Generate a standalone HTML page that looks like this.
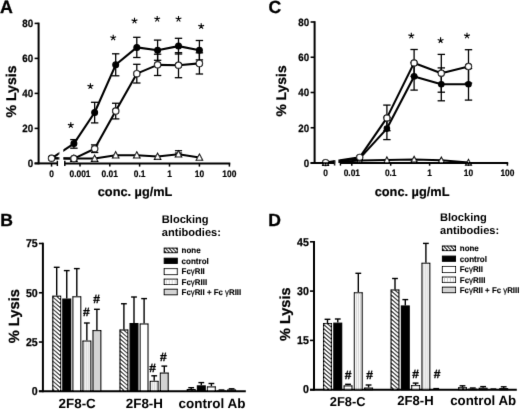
<!DOCTYPE html>
<html><head><meta charset="utf-8"><title>Figure</title>
<style>
html,body{margin:0;padding:0;background:#fff;}
svg{display:block;font-family:"Liberation Sans", sans-serif;text-rendering:geometricPrecision;}
</style></head>
<body>
<svg width="520" height="409" viewBox="0 0 520 409">
<defs>
<filter id="soft" x="0" y="0" width="520" height="409" filterUnits="userSpaceOnUse"><feConvolveMatrix order="3" kernelMatrix="0 1 0 1 9 1 0 1 0" divisor="13" edgeMode="duplicate"/></filter>
<pattern id="hatch" patternUnits="userSpaceOnUse" width="3" height="3">
<rect width="3" height="3" fill="#fff"/>
<path d="M-1,-1 L4,4 M-1,2 L1,4 M2,-1 L4,1" stroke="#000" stroke-width="0.95"/>
</pattern>
<pattern id="vert" patternUnits="userSpaceOnUse" width="2" height="4">
<rect width="2" height="4" fill="#fff"/>
<line x1="1" y1="0" x2="1" y2="4" stroke="#777" stroke-width="0.7"/>
</pattern>
</defs>
<rect width="520" height="409" fill="#fff"/>
<g filter="url(#soft)">
<text x="0.0" y="12.8" font-size="17.8" text-anchor="start" font-weight="bold" stroke="#000" stroke-width="0.3">A</text>
<polyline points="51.55,158.3 73.9,158.6 94.65,158.6 115.7,155.2 136.8,155.3 157.6,156.6 178.5,154.3 199.4,157.5" fill="none" stroke="#000" stroke-width="2.0" stroke-linejoin="round"/>
<line x1="178.5" y1="150.7" x2="178.5" y2="153" stroke="#000" stroke-width="1.2" />
<line x1="174.9" y1="150.7" x2="182.1" y2="150.7" stroke="#000" stroke-width="1.2" />
<line x1="174.9" y1="153" x2="182.1" y2="153" stroke="#000" stroke-width="1.2" />
<line x1="73.9" y1="139.6" x2="73.9" y2="148.2" stroke="#000" stroke-width="1.3" />
<line x1="70.2" y1="139.6" x2="77.60000000000001" y2="139.6" stroke="#000" stroke-width="1.3" />
<line x1="70.2" y1="148.2" x2="77.60000000000001" y2="148.2" stroke="#000" stroke-width="1.3" />
<line x1="94.65" y1="144.9" x2="94.65" y2="152.5" stroke="#000" stroke-width="1.3" />
<line x1="90.95" y1="144.9" x2="98.35000000000001" y2="144.9" stroke="#000" stroke-width="1.3" />
<line x1="90.95" y1="152.5" x2="98.35000000000001" y2="152.5" stroke="#000" stroke-width="1.3" />
<line x1="94.65" y1="102.3" x2="94.65" y2="122.9" stroke="#000" stroke-width="1.3" />
<line x1="90.95" y1="102.3" x2="98.35000000000001" y2="102.3" stroke="#000" stroke-width="1.3" />
<line x1="90.95" y1="122.9" x2="98.35000000000001" y2="122.9" stroke="#000" stroke-width="1.3" />
<line x1="115.7" y1="103.25" x2="115.7" y2="118.9" stroke="#000" stroke-width="1.3" />
<line x1="112.0" y1="103.25" x2="119.4" y2="103.25" stroke="#000" stroke-width="1.3" />
<line x1="112.0" y1="118.9" x2="119.4" y2="118.9" stroke="#000" stroke-width="1.3" />
<line x1="115.7" y1="53.8" x2="115.7" y2="75.8" stroke="#000" stroke-width="1.3" />
<line x1="112.0" y1="53.8" x2="119.4" y2="53.8" stroke="#000" stroke-width="1.3" />
<line x1="112.0" y1="75.8" x2="119.4" y2="75.8" stroke="#000" stroke-width="1.3" />
<line x1="136.8" y1="64.3" x2="136.8" y2="83.0" stroke="#000" stroke-width="1.3" />
<line x1="133.10000000000002" y1="64.3" x2="140.5" y2="64.3" stroke="#000" stroke-width="1.3" />
<line x1="133.10000000000002" y1="83.0" x2="140.5" y2="83.0" stroke="#000" stroke-width="1.3" />
<line x1="136.8" y1="37.3" x2="136.8" y2="57.5" stroke="#000" stroke-width="1.3" />
<line x1="133.10000000000002" y1="37.3" x2="140.5" y2="37.3" stroke="#000" stroke-width="1.3" />
<line x1="133.10000000000002" y1="57.5" x2="140.5" y2="57.5" stroke="#000" stroke-width="1.3" />
<line x1="157.6" y1="54.2" x2="157.6" y2="75.5" stroke="#000" stroke-width="1.3" />
<line x1="153.9" y1="54.2" x2="161.29999999999998" y2="54.2" stroke="#000" stroke-width="1.3" />
<line x1="153.9" y1="75.5" x2="161.29999999999998" y2="75.5" stroke="#000" stroke-width="1.3" />
<line x1="157.6" y1="40.1" x2="157.6" y2="60.3" stroke="#000" stroke-width="1.3" />
<line x1="153.9" y1="40.1" x2="161.29999999999998" y2="40.1" stroke="#000" stroke-width="1.3" />
<line x1="153.9" y1="60.3" x2="161.29999999999998" y2="60.3" stroke="#000" stroke-width="1.3" />
<line x1="178.5" y1="52.7" x2="178.5" y2="77.7" stroke="#000" stroke-width="1.3" />
<line x1="174.8" y1="52.7" x2="182.2" y2="52.7" stroke="#000" stroke-width="1.3" />
<line x1="174.8" y1="77.7" x2="182.2" y2="77.7" stroke="#000" stroke-width="1.3" />
<line x1="178.5" y1="38.3" x2="178.5" y2="54.0" stroke="#000" stroke-width="1.3" />
<line x1="174.8" y1="38.3" x2="182.2" y2="38.3" stroke="#000" stroke-width="1.3" />
<line x1="174.8" y1="54.0" x2="182.2" y2="54.0" stroke="#000" stroke-width="1.3" />
<line x1="199.4" y1="52.8" x2="199.4" y2="74.0" stroke="#000" stroke-width="1.3" />
<line x1="195.70000000000002" y1="52.8" x2="203.1" y2="52.8" stroke="#000" stroke-width="1.3" />
<line x1="195.70000000000002" y1="74.0" x2="203.1" y2="74.0" stroke="#000" stroke-width="1.3" />
<line x1="199.4" y1="40.5" x2="199.4" y2="59.9" stroke="#000" stroke-width="1.3" />
<line x1="195.70000000000002" y1="40.5" x2="203.1" y2="40.5" stroke="#000" stroke-width="1.3" />
<line x1="195.70000000000002" y1="59.9" x2="203.1" y2="59.9" stroke="#000" stroke-width="1.3" />
<polyline points="51.55,158.3 73.9,158.6 94.65,148.7 115.7,111.1 136.8,73.65 157.6,64.85 178.5,65.2 199.4,63.4" fill="none" stroke="#000" stroke-width="2.1" stroke-linejoin="round"/>
<polyline points="51.55,158.3 73.9,143.6 94.65,112.5 115.7,64.8 136.8,47.4 157.6,50.2 178.5,46.1 199.4,50.2" fill="none" stroke="#000" stroke-width="2.1" stroke-linejoin="round"/>
<rect x="59.4" y="136" width="3.6" height="30" fill="#fff"/>
<path d="M73.9,155.16 L77.15,161.33 L70.65,161.33 Z" fill="#fff" stroke="#000" stroke-width="1.1" stroke-linejoin="miter"/>
<path d="M94.65,155.16 L97.9,161.33 L91.4,161.33 Z" fill="#fff" stroke="#000" stroke-width="1.1" stroke-linejoin="miter"/>
<path d="M115.7,151.75 L118.95,157.93 L112.45,157.93 Z" fill="#fff" stroke="#000" stroke-width="1.1" stroke-linejoin="miter"/>
<path d="M136.8,151.86 L140.05,158.03 L133.55,158.03 Z" fill="#fff" stroke="#000" stroke-width="1.1" stroke-linejoin="miter"/>
<path d="M157.6,153.16 L160.85,159.33 L154.35,159.33 Z" fill="#fff" stroke="#000" stroke-width="1.1" stroke-linejoin="miter"/>
<path d="M178.5,150.86 L181.75,157.03 L175.25,157.03 Z" fill="#fff" stroke="#000" stroke-width="1.1" stroke-linejoin="miter"/>
<path d="M199.4,154.06 L202.65,160.23 L196.15,160.23 Z" fill="#fff" stroke="#000" stroke-width="1.1" stroke-linejoin="miter"/>
<circle cx="73.9" cy="143.6" r="2.9" fill="#000" stroke="#000" stroke-width="1.2"/>
<circle cx="94.65" cy="112.5" r="2.9" fill="#000" stroke="#000" stroke-width="1.2"/>
<circle cx="115.7" cy="64.8" r="2.9" fill="#000" stroke="#000" stroke-width="1.2"/>
<circle cx="136.8" cy="47.4" r="2.9" fill="#000" stroke="#000" stroke-width="1.2"/>
<circle cx="157.6" cy="50.2" r="2.9" fill="#000" stroke="#000" stroke-width="1.2"/>
<circle cx="178.5" cy="46.1" r="2.9" fill="#000" stroke="#000" stroke-width="1.2"/>
<circle cx="199.4" cy="50.2" r="2.9" fill="#000" stroke="#000" stroke-width="1.2"/>
<circle cx="51.55" cy="158.3" r="3.15" fill="#fff" stroke="#000" stroke-width="1.2"/>
<circle cx="73.9" cy="158.6" r="3.15" fill="#fff" stroke="#000" stroke-width="1.2"/>
<circle cx="94.65" cy="148.7" r="3.15" fill="#fff" stroke="#000" stroke-width="1.2"/>
<circle cx="115.7" cy="111.1" r="3.15" fill="#fff" stroke="#000" stroke-width="1.2"/>
<circle cx="136.8" cy="73.65" r="3.15" fill="#fff" stroke="#000" stroke-width="1.2"/>
<circle cx="157.6" cy="64.85" r="3.15" fill="#fff" stroke="#000" stroke-width="1.2"/>
<circle cx="178.5" cy="65.2" r="3.15" fill="#fff" stroke="#000" stroke-width="1.2"/>
<circle cx="199.4" cy="63.4" r="3.15" fill="#fff" stroke="#000" stroke-width="1.2"/>
<line x1="38.6" y1="22.599999999999998" x2="38.6" y2="164.3" stroke="#000" stroke-width="2.0" />
<line x1="34.6" y1="23.4" x2="38.6" y2="23.4" stroke="#000" stroke-width="1.6" />
<text transform="translate(33.2,27.19) scale(0.92,1)" font-size="10.6" text-anchor="end" font-weight="bold" stroke="#000" stroke-width="0.25">80</text>
<line x1="34.6" y1="58.4" x2="38.6" y2="58.4" stroke="#000" stroke-width="1.6" />
<text transform="translate(33.2,62.19) scale(0.92,1)" font-size="10.6" text-anchor="end" font-weight="bold" stroke="#000" stroke-width="0.25">60</text>
<line x1="34.6" y1="93.4" x2="38.6" y2="93.4" stroke="#000" stroke-width="1.6" />
<text transform="translate(33.2,97.19) scale(0.92,1)" font-size="10.6" text-anchor="end" font-weight="bold" stroke="#000" stroke-width="0.25">40</text>
<line x1="34.6" y1="128.4" x2="38.6" y2="128.4" stroke="#000" stroke-width="1.6" />
<text transform="translate(33.2,132.19) scale(0.92,1)" font-size="10.6" text-anchor="end" font-weight="bold" stroke="#000" stroke-width="0.25">20</text>
<line x1="34.6" y1="163.4" x2="38.6" y2="163.4" stroke="#000" stroke-width="1.6" />
<text transform="translate(33.2,167.19) scale(0.92,1)" font-size="10.6" text-anchor="end" font-weight="bold" stroke="#000" stroke-width="0.25">0</text>
<line x1="34.6" y1="163.4" x2="57.4" y2="163.4" stroke="#000" stroke-width="2.0" />
<line x1="64.8" y1="163.4" x2="230.3" y2="163.4" stroke="#000" stroke-width="2.0" />
<line x1="57.4" y1="160.8" x2="57.4" y2="166.0" stroke="#000" stroke-width="1.5" />
<line x1="64.8" y1="160.8" x2="64.8" y2="166.0" stroke="#000" stroke-width="1.5" />
<line x1="51.55" y1="163.4" x2="51.55" y2="166.6" stroke="#000" stroke-width="1.5" />
<text transform="translate(51.55,176.8) scale(0.9,1)" font-size="9.4" text-anchor="middle" font-weight="bold" stroke="#000" stroke-width="0.2">0</text>
<line x1="80.0" y1="163.4" x2="80.0" y2="166.6" stroke="#000" stroke-width="1.5" />
<text transform="translate(80.0,176.8) scale(0.9,1)" font-size="9.4" text-anchor="middle" font-weight="bold" stroke="#000" stroke-width="0.2">0.001</text>
<line x1="109.8" y1="163.4" x2="109.8" y2="166.6" stroke="#000" stroke-width="1.5" />
<text transform="translate(109.8,176.8) scale(0.9,1)" font-size="9.4" text-anchor="middle" font-weight="bold" stroke="#000" stroke-width="0.2">0.01</text>
<line x1="139.6" y1="163.4" x2="139.6" y2="166.6" stroke="#000" stroke-width="1.5" />
<text transform="translate(139.6,176.8) scale(0.9,1)" font-size="9.4" text-anchor="middle" font-weight="bold" stroke="#000" stroke-width="0.2">0.1</text>
<line x1="169.5" y1="163.4" x2="169.5" y2="166.6" stroke="#000" stroke-width="1.5" />
<text transform="translate(169.5,176.8) scale(0.9,1)" font-size="9.4" text-anchor="middle" font-weight="bold" stroke="#000" stroke-width="0.2">1</text>
<line x1="199.4" y1="163.4" x2="199.4" y2="166.6" stroke="#000" stroke-width="1.5" />
<text transform="translate(199.4,176.8) scale(0.9,1)" font-size="9.4" text-anchor="middle" font-weight="bold" stroke="#000" stroke-width="0.2">10</text>
<line x1="229.4" y1="163.4" x2="229.4" y2="166.6" stroke="#000" stroke-width="1.5" />
<text transform="translate(229.4,176.8) scale(0.9,1)" font-size="9.4" text-anchor="middle" font-weight="bold" stroke="#000" stroke-width="0.2">100</text>
<text x="135.1" y="195.9" font-size="12.75" text-anchor="middle" font-weight="bold" stroke="#000" stroke-width="0.2">conc. µg/mL</text>
<text x="0" y="0" font-size="14.1" text-anchor="middle" font-weight="bold" transform="translate(16.2,91.5) rotate(-90)" stroke="#000" stroke-width="0.25">% Lysis</text>
<path d="M70.8,125.3 L70.8,122.25 M70.8,125.3 L73.7,124.36 M70.8,125.3 L72.59,127.77 M70.8,125.3 L69.01,127.77 M70.8,125.3 L67.9,124.36 " stroke="#000" stroke-width="1.1" fill="none" stroke-linecap="butt"/>
<path d="M90.4,86.3 L90.4,83.25 M90.4,86.3 L93.3,85.36 M90.4,86.3 L92.19,88.77 M90.4,86.3 L88.61,88.77 M90.4,86.3 L87.5,85.36 " stroke="#000" stroke-width="1.1" fill="none" stroke-linecap="butt"/>
<path d="M113.2,37.7 L113.2,34.65 M113.2,37.7 L116.1,36.76 M113.2,37.7 L114.99,40.17 M113.2,37.7 L111.41,40.17 M113.2,37.7 L110.3,36.76 " stroke="#000" stroke-width="1.1" fill="none" stroke-linecap="butt"/>
<path d="M134.5,20.8 L134.5,17.75 M134.5,20.8 L137.4,19.86 M134.5,20.8 L136.29,23.27 M134.5,20.8 L132.71,23.27 M134.5,20.8 L131.6,19.86 " stroke="#000" stroke-width="1.1" fill="none" stroke-linecap="butt"/>
<path d="M157.2,19.0 L157.2,15.95 M157.2,19.0 L160.1,18.06 M157.2,19.0 L158.99,21.47 M157.2,19.0 L155.41,21.47 M157.2,19.0 L154.3,18.06 " stroke="#000" stroke-width="1.1" fill="none" stroke-linecap="butt"/>
<path d="M178.5,19.0 L178.5,15.95 M178.5,19.0 L181.4,18.06 M178.5,19.0 L180.29,21.47 M178.5,19.0 L176.71,21.47 M178.5,19.0 L175.6,18.06 " stroke="#000" stroke-width="1.1" fill="none" stroke-linecap="butt"/>
<path d="M201.2,26.3 L201.2,23.25 M201.2,26.3 L204.1,25.36 M201.2,26.3 L202.99,28.77 M201.2,26.3 L199.41,28.77 M201.2,26.3 L198.3,25.36 " stroke="#000" stroke-width="1.1" fill="none" stroke-linecap="butt"/>
<text x="268.5" y="12.9" font-size="17.6" text-anchor="start" font-weight="bold" stroke="#000" stroke-width="0.3">C</text>
<polyline points="325.6,163.0 359.7,160.6 386.9,160.1 414.1,159.55 441.3,160.3 468.5,162.6" fill="none" stroke="#000" stroke-width="2.0" stroke-linejoin="round"/>
<line x1="386.9" y1="105.1" x2="386.9" y2="130.7" stroke="#000" stroke-width="1.3" />
<line x1="383.2" y1="105.1" x2="390.59999999999997" y2="105.1" stroke="#000" stroke-width="1.3" />
<line x1="383.2" y1="130.7" x2="390.59999999999997" y2="130.7" stroke="#000" stroke-width="1.3" />
<line x1="386.9" y1="117.6" x2="386.9" y2="139.6" stroke="#000" stroke-width="1.3" />
<line x1="383.2" y1="117.6" x2="390.59999999999997" y2="117.6" stroke="#000" stroke-width="1.3" />
<line x1="383.2" y1="139.6" x2="390.59999999999997" y2="139.6" stroke="#000" stroke-width="1.3" />
<line x1="414.1" y1="49.5" x2="414.1" y2="76.3" stroke="#000" stroke-width="1.3" />
<line x1="410.40000000000003" y1="49.5" x2="417.8" y2="49.5" stroke="#000" stroke-width="1.3" />
<line x1="410.40000000000003" y1="76.3" x2="417.8" y2="76.3" stroke="#000" stroke-width="1.3" />
<line x1="414.1" y1="62.7" x2="414.1" y2="90.1" stroke="#000" stroke-width="1.3" />
<line x1="410.40000000000003" y1="62.7" x2="417.8" y2="62.7" stroke="#000" stroke-width="1.3" />
<line x1="410.40000000000003" y1="90.1" x2="417.8" y2="90.1" stroke="#000" stroke-width="1.3" />
<line x1="441.3" y1="54.4" x2="441.3" y2="92.2" stroke="#000" stroke-width="1.3" />
<line x1="437.6" y1="54.4" x2="445.0" y2="54.4" stroke="#000" stroke-width="1.3" />
<line x1="437.6" y1="92.2" x2="445.0" y2="92.2" stroke="#000" stroke-width="1.3" />
<line x1="441.3" y1="67.9" x2="441.3" y2="100.8" stroke="#000" stroke-width="1.3" />
<line x1="437.6" y1="67.9" x2="445.0" y2="67.9" stroke="#000" stroke-width="1.3" />
<line x1="437.6" y1="100.8" x2="445.0" y2="100.8" stroke="#000" stroke-width="1.3" />
<line x1="468.5" y1="49.7" x2="468.5" y2="83.1" stroke="#000" stroke-width="1.3" />
<line x1="464.8" y1="49.7" x2="472.2" y2="49.7" stroke="#000" stroke-width="1.3" />
<line x1="464.8" y1="83.1" x2="472.2" y2="83.1" stroke="#000" stroke-width="1.3" />
<line x1="468.5" y1="68.5" x2="468.5" y2="100.1" stroke="#000" stroke-width="1.3" />
<line x1="464.8" y1="68.5" x2="472.2" y2="68.5" stroke="#000" stroke-width="1.3" />
<line x1="464.8" y1="100.1" x2="472.2" y2="100.1" stroke="#000" stroke-width="1.3" />
<polyline points="325.6,162.6 359.7,157.35 386.9,117.9 414.1,62.9 441.3,73.2 468.5,66.4" fill="none" stroke="#000" stroke-width="2.1" stroke-linejoin="round"/>
<polyline points="325.6,163.0 359.7,158.4 386.9,128.6 414.1,76.4 441.3,84.3 468.5,84.3" fill="none" stroke="#000" stroke-width="2.1" stroke-linejoin="round"/>
<rect x="335.2" y="150" width="3.1" height="20" fill="#fff"/>
<path d="M325.6,159.82 L328.6,165.52 L322.6,165.52 Z" fill="#fff" stroke="#000" stroke-width="1.1" stroke-linejoin="miter"/>
<path d="M359.7,157.42 L362.7,163.12 L356.7,163.12 Z" fill="#fff" stroke="#000" stroke-width="1.1" stroke-linejoin="miter"/>
<path d="M386.9,156.92 L389.9,162.62 L383.9,162.62 Z" fill="#fff" stroke="#000" stroke-width="1.1" stroke-linejoin="miter"/>
<path d="M414.1,156.37 L417.1,162.07 L411.1,162.07 Z" fill="#fff" stroke="#000" stroke-width="1.1" stroke-linejoin="miter"/>
<path d="M441.3,157.12 L444.3,162.82 L438.3,162.82 Z" fill="#fff" stroke="#000" stroke-width="1.1" stroke-linejoin="miter"/>
<path d="M468.5,159.42 L471.5,165.12 L465.5,165.12 Z" fill="#fff" stroke="#000" stroke-width="1.1" stroke-linejoin="miter"/>
<circle cx="359.7" cy="158.4" r="2.7" fill="#000" stroke="#000" stroke-width="1.2"/>
<circle cx="386.9" cy="128.6" r="2.7" fill="#000" stroke="#000" stroke-width="1.2"/>
<circle cx="414.1" cy="76.4" r="2.7" fill="#000" stroke="#000" stroke-width="1.2"/>
<circle cx="441.3" cy="84.3" r="2.7" fill="#000" stroke="#000" stroke-width="1.2"/>
<circle cx="468.5" cy="84.3" r="2.7" fill="#000" stroke="#000" stroke-width="1.2"/>
<circle cx="325.6" cy="162.6" r="3.1" fill="#fff" stroke="#000" stroke-width="1.2"/>
<circle cx="359.7" cy="157.35" r="3.1" fill="#fff" stroke="#000" stroke-width="1.2"/>
<circle cx="386.9" cy="117.9" r="3.1" fill="#fff" stroke="#000" stroke-width="1.2"/>
<circle cx="414.1" cy="62.9" r="3.1" fill="#fff" stroke="#000" stroke-width="1.2"/>
<circle cx="441.3" cy="73.2" r="3.1" fill="#fff" stroke="#000" stroke-width="1.2"/>
<circle cx="468.5" cy="66.4" r="3.1" fill="#fff" stroke="#000" stroke-width="1.2"/>
<line x1="314.6" y1="21.2" x2="314.6" y2="163.9" stroke="#000" stroke-width="2.0" />
<line x1="310.6" y1="22.0" x2="314.6" y2="22.0" stroke="#000" stroke-width="1.6" />
<text transform="translate(309.20000000000005,25.79) scale(0.92,1)" font-size="10.6" text-anchor="end" font-weight="bold" stroke="#000" stroke-width="0.25">80</text>
<line x1="310.6" y1="57.25" x2="314.6" y2="57.25" stroke="#000" stroke-width="1.6" />
<text transform="translate(309.20000000000005,61.04) scale(0.92,1)" font-size="10.6" text-anchor="end" font-weight="bold" stroke="#000" stroke-width="0.25">60</text>
<line x1="310.6" y1="92.5" x2="314.6" y2="92.5" stroke="#000" stroke-width="1.6" />
<text transform="translate(309.20000000000005,96.29) scale(0.92,1)" font-size="10.6" text-anchor="end" font-weight="bold" stroke="#000" stroke-width="0.25">40</text>
<line x1="310.6" y1="127.75" x2="314.6" y2="127.75" stroke="#000" stroke-width="1.6" />
<text transform="translate(309.20000000000005,131.54) scale(0.92,1)" font-size="10.6" text-anchor="end" font-weight="bold" stroke="#000" stroke-width="0.25">20</text>
<line x1="310.6" y1="163.0" x2="314.6" y2="163.0" stroke="#000" stroke-width="1.6" />
<text transform="translate(309.20000000000005,166.79) scale(0.92,1)" font-size="10.6" text-anchor="end" font-weight="bold" stroke="#000" stroke-width="0.25">0</text>
<line x1="310.6" y1="163.0" x2="334.6" y2="163.0" stroke="#000" stroke-width="2.0" />
<line x1="340.4" y1="163.0" x2="508.2" y2="163.0" stroke="#000" stroke-width="2.0" />
<line x1="334.6" y1="160.4" x2="334.6" y2="165.6" stroke="#000" stroke-width="1.5" />
<line x1="340.4" y1="160.4" x2="340.4" y2="165.6" stroke="#000" stroke-width="1.5" />
<line x1="325.6" y1="163.0" x2="325.6" y2="165.7" stroke="#000" stroke-width="1.5" />
<text transform="translate(325.6,176.4) scale(0.9,1)" font-size="9.3" text-anchor="middle" font-weight="bold" stroke="#000" stroke-width="0.2">0</text>
<line x1="351.8" y1="163.0" x2="351.8" y2="165.7" stroke="#000" stroke-width="1.5" />
<text transform="translate(351.8,176.4) scale(0.9,1)" font-size="9.3" text-anchor="middle" font-weight="bold" stroke="#000" stroke-width="0.2">0.01</text>
<line x1="390.7" y1="163.0" x2="390.7" y2="165.7" stroke="#000" stroke-width="1.5" />
<text transform="translate(390.7,176.4) scale(0.9,1)" font-size="9.3" text-anchor="middle" font-weight="bold" stroke="#000" stroke-width="0.2">0.1</text>
<line x1="429.6" y1="163.0" x2="429.6" y2="165.7" stroke="#000" stroke-width="1.5" />
<text transform="translate(429.6,176.4) scale(0.9,1)" font-size="9.3" text-anchor="middle" font-weight="bold" stroke="#000" stroke-width="0.2">1</text>
<line x1="468.5" y1="163.0" x2="468.5" y2="165.7" stroke="#000" stroke-width="1.5" />
<text transform="translate(468.5,176.4) scale(0.9,1)" font-size="9.3" text-anchor="middle" font-weight="bold" stroke="#000" stroke-width="0.2">10</text>
<line x1="507.4" y1="163.0" x2="507.4" y2="165.7" stroke="#000" stroke-width="1.5" />
<text transform="translate(507.4,176.4) scale(0.9,1)" font-size="9.3" text-anchor="middle" font-weight="bold" stroke="#000" stroke-width="0.2">100</text>
<text x="412.1" y="195.7" font-size="12.8" text-anchor="middle" font-weight="bold" stroke="#000" stroke-width="0.2">conc. µg/mL</text>
<text x="0" y="0" font-size="13.9" text-anchor="middle" font-weight="bold" transform="translate(286.3,91.0) rotate(-90)" stroke="#000" stroke-width="0.25">% Lysis</text>
<path d="M411.3,35.8 L411.3,32.75 M411.3,35.8 L414.2,34.86 M411.3,35.8 L413.09,38.27 M411.3,35.8 L409.51,38.27 M411.3,35.8 L408.4,34.86 " stroke="#000" stroke-width="1.1" fill="none" stroke-linecap="butt"/>
<path d="M440.6,40.4 L440.6,37.35 M440.6,40.4 L443.5,39.46 M440.6,40.4 L442.39,42.87 M440.6,40.4 L438.81,42.87 M440.6,40.4 L437.7,39.46 " stroke="#000" stroke-width="1.1" fill="none" stroke-linecap="butt"/>
<path d="M467.0,35.8 L467.0,32.75 M467.0,35.8 L469.9,34.86 M467.0,35.8 L468.79,38.27 M467.0,35.8 L465.21,38.27 M467.0,35.8 L464.1,34.86 " stroke="#000" stroke-width="1.1" fill="none" stroke-linecap="butt"/>
<text x="0.3" y="226.1" font-size="17.6" text-anchor="start" font-weight="bold" stroke="#000" stroke-width="0.3">B</text>
<line x1="56.7" y1="267.3" x2="56.7" y2="295.6" stroke="#000" stroke-width="1.4" />
<line x1="53.800000000000004" y1="267.3" x2="59.6" y2="267.3" stroke="#000" stroke-width="1.4" />
<rect x="52.78" y="296.18" width="7.85" height="95.12" fill="#fff" stroke="none"/>
<clipPath id="hc1"><rect x="52.78" y="296.18" width="7.85" height="95.12"/></clipPath>
<path d="M51.78,280.18 L61.63,288.74 M51.78,284.18 L61.63,292.74 M51.78,288.18 L61.63,296.74 M51.78,292.18 L61.63,300.74 M51.78,296.18 L61.63,304.74 M51.78,300.18 L61.63,308.74 M51.78,304.18 L61.63,312.74 M51.78,308.18 L61.63,316.74 M51.78,312.18 L61.63,320.74 M51.78,316.18 L61.63,324.74 M51.78,320.18 L61.63,328.74 M51.78,324.18 L61.63,332.74 M51.78,328.18 L61.63,336.74 M51.78,332.18 L61.63,340.74 M51.78,336.18 L61.63,344.74 M51.78,340.18 L61.63,348.74 M51.78,344.18 L61.63,352.74 M51.78,348.18 L61.63,356.74 M51.78,352.18 L61.63,360.74 M51.78,356.18 L61.63,364.74 M51.78,360.18 L61.63,368.74 M51.78,364.18 L61.63,372.74 M51.78,368.18 L61.63,376.74 M51.78,372.18 L61.63,380.74 M51.78,376.18 L61.63,384.74 M51.78,380.18 L61.63,388.74 M51.78,384.18 L61.63,392.74 M51.78,388.18 L61.63,396.74 M51.78,392.18 L61.63,400.74 " stroke="#000" stroke-width="1.05" fill="none" clip-path="url(#hc1)"/>
<rect x="52.78" y="296.18" width="7.85" height="95.12" fill="none" stroke="#000" stroke-width="1.15"/>
<line x1="66.75" y1="270.6" x2="66.75" y2="298.5" stroke="#000" stroke-width="1.4" />
<line x1="63.85" y1="270.6" x2="69.65" y2="270.6" stroke="#000" stroke-width="1.4" />
<rect x="62.83" y="299.07" width="7.85" height="92.23" fill="#000" stroke="none"/>
<rect x="62.83" y="299.07" width="7.85" height="92.23" fill="none" stroke="#000" stroke-width="1.15"/>
<line x1="76.80000000000001" y1="268.6" x2="76.80000000000001" y2="296.2" stroke="#000" stroke-width="1.4" />
<line x1="73.9" y1="268.6" x2="79.70000000000002" y2="268.6" stroke="#000" stroke-width="1.4" />
<rect x="72.88" y="296.77" width="7.85" height="94.53" fill="#fff" stroke="none"/>
<rect x="72.88" y="296.77" width="7.85" height="94.53" fill="none" stroke="#000" stroke-width="1.15"/>
<line x1="86.85000000000001" y1="323.0" x2="86.85000000000001" y2="340.5" stroke="#000" stroke-width="1.4" />
<line x1="83.95" y1="323.0" x2="89.75000000000001" y2="323.0" stroke="#000" stroke-width="1.4" />
<rect x="82.93" y="341.07" width="7.85" height="50.23" fill="#fff" stroke="none"/>
<rect x="82.93" y="341.07" width="7.85" height="50.23" fill="none" stroke="#000" stroke-width="1.15"/>
<line x1="84.8" y1="341.57" x2="84.8" y2="391.3" stroke="#bcbcbc" stroke-width="0.75"/>
<line x1="86.85" y1="341.57" x2="86.85" y2="391.3" stroke="#bcbcbc" stroke-width="0.75"/>
<line x1="88.9" y1="341.57" x2="88.9" y2="391.3" stroke="#bcbcbc" stroke-width="0.75"/>
<line x1="96.9" y1="309.3" x2="96.9" y2="330.0" stroke="#000" stroke-width="1.4" />
<line x1="94.0" y1="309.3" x2="99.80000000000001" y2="309.3" stroke="#000" stroke-width="1.4" />
<rect x="92.98" y="330.57" width="7.85" height="60.73" fill="#d3d3d3" stroke="none"/>
<rect x="92.98" y="330.57" width="7.85" height="60.73" fill="none" stroke="#000" stroke-width="1.15"/>
<line x1="123.9" y1="303.75" x2="123.9" y2="329.4" stroke="#000" stroke-width="1.4" />
<line x1="121.0" y1="303.75" x2="126.80000000000001" y2="303.75" stroke="#000" stroke-width="1.4" />
<rect x="119.98" y="329.97" width="7.85" height="61.33" fill="#fff" stroke="none"/>
<clipPath id="hc2"><rect x="119.98" y="329.97" width="7.85" height="61.33"/></clipPath>
<path d="M118.98,313.97 L128.82,322.54 M118.98,317.97 L128.82,326.54 M118.98,321.97 L128.82,330.54 M118.98,325.97 L128.82,334.54 M118.98,329.97 L128.82,338.54 M118.98,333.97 L128.82,342.54 M118.98,337.97 L128.82,346.54 M118.98,341.97 L128.82,350.54 M118.98,345.97 L128.82,354.54 M118.98,349.97 L128.82,358.54 M118.98,353.97 L128.82,362.54 M118.98,357.97 L128.82,366.54 M118.98,361.97 L128.82,370.54 M118.98,365.97 L128.82,374.54 M118.98,369.97 L128.82,378.54 M118.98,373.97 L128.82,382.54 M118.98,377.97 L128.82,386.54 M118.98,381.97 L128.82,390.54 M118.98,385.97 L128.82,394.54 M118.98,389.97 L128.82,398.54 M118.98,393.97 L128.82,402.54 " stroke="#000" stroke-width="1.05" fill="none" clip-path="url(#hc2)"/>
<rect x="119.98" y="329.97" width="7.85" height="61.33" fill="none" stroke="#000" stroke-width="1.15"/>
<line x1="134.0" y1="297.0" x2="134.0" y2="323.0" stroke="#000" stroke-width="1.4" />
<line x1="131.1" y1="297.0" x2="136.9" y2="297.0" stroke="#000" stroke-width="1.4" />
<rect x="130.07" y="323.57" width="7.85" height="67.73" fill="#000" stroke="none"/>
<rect x="130.07" y="323.57" width="7.85" height="67.73" fill="none" stroke="#000" stroke-width="1.15"/>
<line x1="144.1" y1="298.6" x2="144.1" y2="323.4" stroke="#000" stroke-width="1.4" />
<line x1="141.2" y1="298.6" x2="147.0" y2="298.6" stroke="#000" stroke-width="1.4" />
<rect x="140.17" y="323.97" width="7.85" height="67.33" fill="#fff" stroke="none"/>
<rect x="140.17" y="323.97" width="7.85" height="67.33" fill="none" stroke="#000" stroke-width="1.15"/>
<line x1="154.2" y1="375.8" x2="154.2" y2="380.8" stroke="#000" stroke-width="1.4" />
<line x1="151.29999999999998" y1="375.8" x2="157.1" y2="375.8" stroke="#000" stroke-width="1.4" />
<rect x="150.27" y="381.38" width="7.85" height="9.93" fill="#fff" stroke="none"/>
<rect x="150.27" y="381.38" width="7.85" height="9.93" fill="none" stroke="#000" stroke-width="1.15"/>
<line x1="152.15" y1="381.88" x2="152.15" y2="391.3" stroke="#bcbcbc" stroke-width="0.75"/>
<line x1="154.2" y1="381.88" x2="154.2" y2="391.3" stroke="#bcbcbc" stroke-width="0.75"/>
<line x1="156.25" y1="381.88" x2="156.25" y2="391.3" stroke="#bcbcbc" stroke-width="0.75"/>
<line x1="164.3" y1="366.1" x2="164.3" y2="372.5" stroke="#000" stroke-width="1.4" />
<line x1="161.4" y1="366.1" x2="167.20000000000002" y2="366.1" stroke="#000" stroke-width="1.4" />
<rect x="160.38" y="373.07" width="7.85" height="18.23" fill="#d3d3d3" stroke="none"/>
<rect x="160.38" y="373.07" width="7.85" height="18.23" fill="none" stroke="#000" stroke-width="1.15"/>
<line x1="191.2" y1="387.7" x2="191.2" y2="389.0" stroke="#000" stroke-width="1.4" />
<line x1="188.29999999999998" y1="387.7" x2="194.1" y2="387.7" stroke="#000" stroke-width="1.4" />
<rect x="187.27" y="389.57" width="7.85" height="1.73" fill="#fff" stroke="none"/>
<clipPath id="hc3"><rect x="187.27" y="389.57" width="7.85" height="1.73"/></clipPath>
<path d="M186.27,373.57 L196.12,382.14 M186.27,377.57 L196.12,386.14 M186.27,381.57 L196.12,390.14 M186.27,385.57 L196.12,394.14 M186.27,389.57 L196.12,398.14 M186.27,393.57 L196.12,402.14 " stroke="#000" stroke-width="1.05" fill="none" clip-path="url(#hc3)"/>
<rect x="187.27" y="389.57" width="7.85" height="1.73" fill="none" stroke="#000" stroke-width="1.15"/>
<line x1="201.29999999999998" y1="382.6" x2="201.29999999999998" y2="385.3" stroke="#000" stroke-width="1.4" />
<line x1="198.39999999999998" y1="382.6" x2="204.2" y2="382.6" stroke="#000" stroke-width="1.4" />
<rect x="197.37" y="385.88" width="7.85" height="5.43" fill="#000" stroke="none"/>
<rect x="197.37" y="385.88" width="7.85" height="5.43" fill="none" stroke="#000" stroke-width="1.15"/>
<line x1="211.39999999999998" y1="383.5" x2="211.39999999999998" y2="386.3" stroke="#000" stroke-width="1.4" />
<line x1="208.49999999999997" y1="383.5" x2="214.29999999999998" y2="383.5" stroke="#000" stroke-width="1.4" />
<rect x="207.47" y="386.88" width="7.85" height="4.43" fill="#fff" stroke="none"/>
<rect x="207.47" y="386.88" width="7.85" height="4.43" fill="none" stroke="#000" stroke-width="1.15"/>
<line x1="221.5" y1="390.0" x2="221.5" y2="390.5" stroke="#000" stroke-width="1.4" />
<line x1="218.6" y1="390.0" x2="224.4" y2="390.0" stroke="#000" stroke-width="1.4" />
<rect x="217.57" y="391.07" width="7.85" height="0.23" fill="#fff" stroke="none"/>
<rect x="217.57" y="391.07" width="7.85" height="0.23" fill="none" stroke="#000" stroke-width="1.15"/>
<line x1="231.6" y1="388.8" x2="231.6" y2="389.4" stroke="#000" stroke-width="1.4" />
<line x1="228.7" y1="388.8" x2="234.5" y2="388.8" stroke="#000" stroke-width="1.4" />
<rect x="227.67" y="389.97" width="7.85" height="1.33" fill="#d3d3d3" stroke="none"/>
<rect x="227.67" y="389.97" width="7.85" height="1.33" fill="none" stroke="#000" stroke-width="1.15"/>
<line x1="42.9" y1="242.7" x2="42.9" y2="392.2" stroke="#000" stroke-width="2.0" />
<line x1="38.9" y1="243.5" x2="42.9" y2="243.5" stroke="#000" stroke-width="1.6" />
<text transform="translate(37.699999999999996,247.28) scale(0.93,1)" font-size="11.4" text-anchor="end" font-weight="bold" stroke="#000" stroke-width="0.25">75</text>
<line x1="38.9" y1="292.76666666666665" x2="42.9" y2="292.76666666666665" stroke="#000" stroke-width="1.6" />
<text transform="translate(37.699999999999996,296.55) scale(0.93,1)" font-size="11.4" text-anchor="end" font-weight="bold" stroke="#000" stroke-width="0.25">50</text>
<line x1="38.9" y1="342.03333333333336" x2="42.9" y2="342.03333333333336" stroke="#000" stroke-width="1.6" />
<text transform="translate(37.699999999999996,345.81) scale(0.93,1)" font-size="11.4" text-anchor="end" font-weight="bold" stroke="#000" stroke-width="0.25">25</text>
<line x1="38.9" y1="391.3" x2="42.9" y2="391.3" stroke="#000" stroke-width="1.6" />
<text transform="translate(37.699999999999996,395.08) scale(0.93,1)" font-size="11.4" text-anchor="end" font-weight="bold" stroke="#000" stroke-width="0.25">0</text>
<line x1="38.9" y1="391.3" x2="245.8" y2="391.3" stroke="#000" stroke-width="2.0" />
<text x="0" y="0" font-size="14.7" text-anchor="middle" font-weight="bold" transform="translate(18.6,316.2) rotate(-90)" stroke="#000" stroke-width="0.25">% Lysis</text>
<text x="86.25" y="315.62" font-size="12" text-anchor="middle" font-weight="bold" stroke="#000" stroke-width="0.35">#</text>
<text x="96.5" y="303.02" font-size="12" text-anchor="middle" font-weight="bold" stroke="#000" stroke-width="0.35">#</text>
<text x="152.7" y="371.62" font-size="12" text-anchor="middle" font-weight="bold" stroke="#000" stroke-width="0.35">#</text>
<text x="163.3" y="360.92" font-size="12" text-anchor="middle" font-weight="bold" stroke="#000" stroke-width="0.35">#</text>
<text x="77.2" y="408.4" font-size="13.4" text-anchor="middle" font-weight="bold" >2F8-C</text>
<text x="144.4" y="408.4" font-size="13.4" text-anchor="middle" font-weight="bold" >2F8-H</text>
<text x="211.9" y="408.4" font-size="13.5" text-anchor="middle" font-weight="bold" >control Ab</text>
<text x="161.8" y="223.4" font-size="11.1" text-anchor="start" font-weight="bold" >Blocking</text>
<text x="161.8" y="236.20000000000002" font-size="11.1" text-anchor="start" font-weight="bold" >antibodies:</text>
<rect x="164.2" y="248.1" width="13.1" height="4.6" fill="#fff" stroke="none"/>
<clipPath id="hc4"><rect x="164.2" y="248.1" width="13.1" height="4.6"/></clipPath>
<path d="M163.2,228.6 L178.3,243.7 M163.2,232.1 L178.3,247.2 M163.2,235.6 L178.3,250.7 M163.2,239.1 L178.3,254.2 M163.2,242.6 L178.3,257.7 M163.2,246.1 L178.3,261.2 M163.2,249.6 L178.3,264.7 M163.2,253.1 L178.3,268.2 " stroke="#000" stroke-width="1.1" fill="none" clip-path="url(#hc4)"/>
<rect x="164.2" y="248.1" width="13.1" height="4.6" fill="none" stroke="#000" stroke-width="1"/>
<text x="181.6" y="253.25" font-size="8.3" font-weight="bold" stroke="#000" stroke-width="0.15" textLength="19.0" lengthAdjust="spacingAndGlyphs">none</text>
<rect x="164.2" y="258.2" width="13.1" height="5.2" fill="#000" stroke="none"/>
<rect x="164.2" y="258.2" width="13.1" height="5.2" fill="none" stroke="#000" stroke-width="1"/>
<text x="181.6" y="263.65" font-size="8.3" font-weight="bold" stroke="#000" stroke-width="0.15" textLength="27.2" lengthAdjust="spacingAndGlyphs">control</text>
<rect x="164.2" y="268.6" width="13.1" height="6.0" fill="#fff" stroke="none"/>
<rect x="164.2" y="268.6" width="13.1" height="6.0" fill="none" stroke="#000" stroke-width="1"/>
<text x="181.6" y="274.45" font-size="8.3" font-weight="bold" stroke="#000" stroke-width="0.15" textLength="23.2" lengthAdjust="spacingAndGlyphs">Fc<tspan font-weight="normal">γ</tspan>RII</text>
<rect x="164.2" y="279.1" width="13.1" height="5.4" fill="#fff" stroke="none"/>
<rect x="164.2" y="279.1" width="13.1" height="5.4" fill="none" stroke="#000" stroke-width="1"/>
<line x1="166.3" y1="279.6" x2="166.3" y2="284.0" stroke="#bcbcbc" stroke-width="0.75"/>
<line x1="169.25" y1="279.6" x2="169.25" y2="284.0" stroke="#bcbcbc" stroke-width="0.75"/>
<line x1="172.2" y1="279.6" x2="172.2" y2="284.0" stroke="#bcbcbc" stroke-width="0.75"/>
<line x1="175.15" y1="279.6" x2="175.15" y2="284.0" stroke="#bcbcbc" stroke-width="0.75"/>
<text x="181.6" y="284.65" font-size="8.3" font-weight="bold" stroke="#000" stroke-width="0.15" textLength="25.6" lengthAdjust="spacingAndGlyphs">Fc<tspan font-weight="normal">γ</tspan>RIII</text>
<rect x="164.2" y="289.25" width="13.1" height="5.5" fill="#d3d3d3" stroke="none"/>
<rect x="164.2" y="289.25" width="13.1" height="5.5" fill="none" stroke="#000" stroke-width="1"/>
<text x="181.6" y="294.85" font-size="8.3" font-weight="bold" stroke="#000" stroke-width="0.15" textLength="59.6" lengthAdjust="spacingAndGlyphs">Fc<tspan font-weight="normal">γ</tspan>RII + Fc <tspan font-weight="normal">γ</tspan>RIII</text>
<text x="268.3" y="226.1" font-size="17.6" text-anchor="start" font-weight="bold" stroke="#000" stroke-width="0.3">D</text>
<line x1="327.5" y1="319.3" x2="327.5" y2="323.0" stroke="#000" stroke-width="1.4" />
<line x1="324.6" y1="319.3" x2="330.4" y2="319.3" stroke="#000" stroke-width="1.4" />
<rect x="323.57" y="323.57" width="7.85" height="66.12" fill="#fff" stroke="none"/>
<clipPath id="hc5"><rect x="323.57" y="323.57" width="7.85" height="66.12"/></clipPath>
<path d="M322.57,307.57 L332.43,316.14 M322.57,311.57 L332.43,320.14 M322.57,315.57 L332.43,324.14 M322.57,319.57 L332.43,328.14 M322.57,323.57 L332.43,332.14 M322.57,327.57 L332.43,336.14 M322.57,331.57 L332.43,340.14 M322.57,335.57 L332.43,344.14 M322.57,339.57 L332.43,348.14 M322.57,343.57 L332.43,352.14 M322.57,347.57 L332.43,356.14 M322.57,351.57 L332.43,360.14 M322.57,355.57 L332.43,364.14 M322.57,359.57 L332.43,368.14 M322.57,363.57 L332.43,372.14 M322.57,367.57 L332.43,376.14 M322.57,371.57 L332.43,380.14 M322.57,375.57 L332.43,384.14 M322.57,379.57 L332.43,388.14 M322.57,383.57 L332.43,392.14 M322.57,387.57 L332.43,396.14 M322.57,391.57 L332.43,400.14 " stroke="#000" stroke-width="1.05" fill="none" clip-path="url(#hc5)"/>
<rect x="323.57" y="323.57" width="7.85" height="66.12" fill="none" stroke="#000" stroke-width="1.15"/>
<line x1="337.77" y1="319.0" x2="337.77" y2="322.6" stroke="#000" stroke-width="1.4" />
<line x1="334.87" y1="319.0" x2="340.66999999999996" y2="319.0" stroke="#000" stroke-width="1.4" />
<rect x="333.84" y="323.18" width="7.85" height="66.52" fill="#000" stroke="none"/>
<rect x="333.84" y="323.18" width="7.85" height="66.52" fill="none" stroke="#000" stroke-width="1.15"/>
<line x1="348.04" y1="384.3" x2="348.04" y2="385.3" stroke="#000" stroke-width="1.4" />
<line x1="345.14000000000004" y1="384.3" x2="350.94" y2="384.3" stroke="#000" stroke-width="1.4" />
<rect x="344.12" y="385.88" width="7.85" height="3.82" fill="#fff" stroke="none"/>
<rect x="344.12" y="385.88" width="7.85" height="3.82" fill="none" stroke="#000" stroke-width="1.15"/>
<line x1="358.31" y1="273.3" x2="358.31" y2="292.2" stroke="#000" stroke-width="1.4" />
<line x1="355.41" y1="273.3" x2="361.21" y2="273.3" stroke="#000" stroke-width="1.4" />
<rect x="354.38" y="292.77" width="7.85" height="96.93" fill="#fff" stroke="none"/>
<rect x="354.38" y="292.77" width="7.85" height="96.93" fill="none" stroke="#000" stroke-width="1.15"/>
<line x1="356.26" y1="293.27" x2="356.26" y2="389.7" stroke="#bcbcbc" stroke-width="0.75"/>
<line x1="358.31" y1="293.27" x2="358.31" y2="389.7" stroke="#bcbcbc" stroke-width="0.75"/>
<line x1="360.36" y1="293.27" x2="360.36" y2="389.7" stroke="#bcbcbc" stroke-width="0.75"/>
<line x1="368.58" y1="385.0" x2="368.58" y2="387.5" stroke="#000" stroke-width="1.4" />
<line x1="365.68" y1="385.0" x2="371.47999999999996" y2="385.0" stroke="#000" stroke-width="1.4" />
<rect x="364.65" y="388.07" width="7.85" height="1.62" fill="#d3d3d3" stroke="none"/>
<rect x="364.65" y="388.07" width="7.85" height="1.62" fill="none" stroke="#000" stroke-width="1.15"/>
<line x1="395.0" y1="278.5" x2="395.0" y2="289.4" stroke="#000" stroke-width="1.4" />
<line x1="392.1" y1="278.5" x2="397.9" y2="278.5" stroke="#000" stroke-width="1.4" />
<rect x="391.07" y="289.97" width="7.85" height="99.73" fill="#fff" stroke="none"/>
<clipPath id="hc6"><rect x="391.07" y="289.97" width="7.85" height="99.73"/></clipPath>
<path d="M390.07,273.97 L399.93,282.54 M390.07,277.97 L399.93,286.54 M390.07,281.97 L399.93,290.54 M390.07,285.97 L399.93,294.54 M390.07,289.97 L399.93,298.54 M390.07,293.97 L399.93,302.54 M390.07,297.97 L399.93,306.54 M390.07,301.97 L399.93,310.54 M390.07,305.97 L399.93,314.54 M390.07,309.97 L399.93,318.54 M390.07,313.97 L399.93,322.54 M390.07,317.97 L399.93,326.54 M390.07,321.97 L399.93,330.54 M390.07,325.97 L399.93,334.54 M390.07,329.97 L399.93,338.54 M390.07,333.97 L399.93,342.54 M390.07,337.97 L399.93,346.54 M390.07,341.97 L399.93,350.54 M390.07,345.97 L399.93,354.54 M390.07,349.97 L399.93,358.54 M390.07,353.97 L399.93,362.54 M390.07,357.97 L399.93,366.54 M390.07,361.97 L399.93,370.54 M390.07,365.97 L399.93,374.54 M390.07,369.97 L399.93,378.54 M390.07,373.97 L399.93,382.54 M390.07,377.97 L399.93,386.54 M390.07,381.97 L399.93,390.54 M390.07,385.97 L399.93,394.54 M390.07,389.97 L399.93,398.54 " stroke="#000" stroke-width="1.05" fill="none" clip-path="url(#hc6)"/>
<rect x="391.07" y="289.97" width="7.85" height="99.73" fill="none" stroke="#000" stroke-width="1.15"/>
<line x1="405.3" y1="299.6" x2="405.3" y2="305.4" stroke="#000" stroke-width="1.4" />
<line x1="402.40000000000003" y1="299.6" x2="408.2" y2="299.6" stroke="#000" stroke-width="1.4" />
<rect x="401.38" y="305.97" width="7.85" height="83.73" fill="#000" stroke="none"/>
<rect x="401.38" y="305.97" width="7.85" height="83.73" fill="none" stroke="#000" stroke-width="1.15"/>
<line x1="415.6" y1="383.1" x2="415.6" y2="385.0" stroke="#000" stroke-width="1.4" />
<line x1="412.70000000000005" y1="383.1" x2="418.5" y2="383.1" stroke="#000" stroke-width="1.4" />
<rect x="411.68" y="385.57" width="7.85" height="4.12" fill="#fff" stroke="none"/>
<rect x="411.68" y="385.57" width="7.85" height="4.12" fill="none" stroke="#000" stroke-width="1.15"/>
<line x1="425.9" y1="243.4" x2="425.9" y2="262.7" stroke="#000" stroke-width="1.4" />
<line x1="423.0" y1="243.4" x2="428.79999999999995" y2="243.4" stroke="#000" stroke-width="1.4" />
<rect x="421.97" y="263.27" width="7.85" height="126.43" fill="#fff" stroke="none"/>
<rect x="421.97" y="263.27" width="7.85" height="126.43" fill="none" stroke="#000" stroke-width="1.15"/>
<line x1="423.85" y1="263.77" x2="423.85" y2="389.7" stroke="#bcbcbc" stroke-width="0.75"/>
<line x1="425.9" y1="263.77" x2="425.9" y2="389.7" stroke="#bcbcbc" stroke-width="0.75"/>
<line x1="427.95" y1="263.77" x2="427.95" y2="389.7" stroke="#bcbcbc" stroke-width="0.75"/>
<line x1="436.2" y1="388.6" x2="436.2" y2="389.2" stroke="#000" stroke-width="1.4" />
<line x1="433.3" y1="388.6" x2="439.09999999999997" y2="388.6" stroke="#000" stroke-width="1.4" />
<rect x="432.27" y="389.77" width="7.85" height="-0.07" fill="#d3d3d3" stroke="none"/>
<rect x="432.27" y="389.77" width="7.85" height="-0.07" fill="none" stroke="#000" stroke-width="1.15"/>
<line x1="462.5" y1="385.8" x2="462.5" y2="387.2" stroke="#000" stroke-width="1.4" />
<line x1="459.6" y1="385.8" x2="465.4" y2="385.8" stroke="#000" stroke-width="1.4" />
<rect x="458.57" y="387.77" width="7.85" height="1.93" fill="#fff" stroke="none"/>
<clipPath id="hc7"><rect x="458.57" y="387.77" width="7.85" height="1.93"/></clipPath>
<path d="M457.57,371.77 L467.43,380.34 M457.57,375.77 L467.43,384.34 M457.57,379.77 L467.43,388.34 M457.57,383.77 L467.43,392.34 M457.57,387.77 L467.43,396.34 M457.57,391.77 L467.43,400.34 " stroke="#000" stroke-width="1.05" fill="none" clip-path="url(#hc7)"/>
<rect x="458.57" y="387.77" width="7.85" height="1.93" fill="none" stroke="#000" stroke-width="1.15"/>
<line x1="472.8" y1="388.0" x2="472.8" y2="388.6" stroke="#000" stroke-width="1.4" />
<line x1="469.90000000000003" y1="388.0" x2="475.7" y2="388.0" stroke="#000" stroke-width="1.4" />
<rect x="468.88" y="389.18" width="7.85" height="0.52" fill="#000" stroke="none"/>
<rect x="468.88" y="389.18" width="7.85" height="0.52" fill="none" stroke="#000" stroke-width="1.15"/>
<line x1="483.1" y1="386.6" x2="483.1" y2="387.7" stroke="#000" stroke-width="1.4" />
<line x1="480.20000000000005" y1="386.6" x2="486.0" y2="386.6" stroke="#000" stroke-width="1.4" />
<rect x="479.18" y="388.27" width="7.85" height="1.43" fill="#fff" stroke="none"/>
<rect x="479.18" y="388.27" width="7.85" height="1.43" fill="none" stroke="#000" stroke-width="1.15"/>
<line x1="493.4" y1="389.0" x2="493.4" y2="389.3" stroke="#000" stroke-width="1.4" />
<line x1="490.5" y1="389.0" x2="496.29999999999995" y2="389.0" stroke="#000" stroke-width="1.4" />
<line x1="503.7" y1="386.8" x2="503.7" y2="388.1" stroke="#000" stroke-width="1.4" />
<line x1="500.8" y1="386.8" x2="506.59999999999997" y2="386.8" stroke="#000" stroke-width="1.4" />
<rect x="499.77" y="388.68" width="7.85" height="1.02" fill="#d3d3d3" stroke="none"/>
<rect x="499.77" y="388.68" width="7.85" height="1.02" fill="none" stroke="#000" stroke-width="1.15"/>
<line x1="314.0" y1="241.0" x2="314.0" y2="390.59999999999997" stroke="#000" stroke-width="2.0" />
<line x1="310.0" y1="241.8" x2="314.0" y2="241.8" stroke="#000" stroke-width="1.6" />
<text transform="translate(308.8,245.58) scale(0.93,1)" font-size="11.4" text-anchor="end" font-weight="bold" stroke="#000" stroke-width="0.25">45</text>
<line x1="310.0" y1="291.1" x2="314.0" y2="291.1" stroke="#000" stroke-width="1.6" />
<text transform="translate(308.8,294.88) scale(0.93,1)" font-size="11.4" text-anchor="end" font-weight="bold" stroke="#000" stroke-width="0.25">30</text>
<line x1="310.0" y1="340.4" x2="314.0" y2="340.4" stroke="#000" stroke-width="1.6" />
<text transform="translate(308.8,344.18) scale(0.93,1)" font-size="11.4" text-anchor="end" font-weight="bold" stroke="#000" stroke-width="0.25">15</text>
<line x1="310.0" y1="389.7" x2="314.0" y2="389.7" stroke="#000" stroke-width="1.6" />
<text transform="translate(308.8,393.48) scale(0.93,1)" font-size="11.4" text-anchor="end" font-weight="bold" stroke="#000" stroke-width="0.25">0</text>
<line x1="310.0" y1="389.7" x2="516.8" y2="389.7" stroke="#000" stroke-width="2.0" />
<text x="0" y="0" font-size="14.5" text-anchor="middle" font-weight="bold" transform="translate(289.5,314.2) rotate(-90)" stroke="#000" stroke-width="0.25">% Lysis</text>
<text x="348.0" y="379.42" font-size="12" text-anchor="middle" font-weight="bold" stroke="#000" stroke-width="0.35">#</text>
<text x="369.7" y="378.82" font-size="12" text-anchor="middle" font-weight="bold" stroke="#000" stroke-width="0.35">#</text>
<text x="415.7" y="377.72" font-size="12" text-anchor="middle" font-weight="bold" stroke="#000" stroke-width="0.35">#</text>
<text x="437.1" y="377.52" font-size="12" text-anchor="middle" font-weight="bold" stroke="#000" stroke-width="0.35">#</text>
<text x="347.7" y="405.6" font-size="12.9" text-anchor="middle" font-weight="bold" >2F8-C</text>
<text x="415.5" y="405.4" font-size="13.1" text-anchor="middle" font-weight="bold" >2F8-H</text>
<text x="483.2" y="405.3" font-size="13.3" text-anchor="middle" font-weight="bold" >control Ab</text>
<text x="440.0" y="221.3" font-size="11.1" text-anchor="start" font-weight="bold" >Blocking</text>
<text x="440.0" y="234.10000000000002" font-size="11.1" text-anchor="start" font-weight="bold" >antibodies:</text>
<rect x="442.4" y="246.0" width="13.1" height="4.6" fill="#fff" stroke="none"/>
<clipPath id="hc8"><rect x="442.4" y="246.0" width="13.1" height="4.6"/></clipPath>
<path d="M441.4,226.5 L456.5,241.6 M441.4,230.0 L456.5,245.1 M441.4,233.5 L456.5,248.6 M441.4,237.0 L456.5,252.1 M441.4,240.5 L456.5,255.6 M441.4,244.0 L456.5,259.1 M441.4,247.5 L456.5,262.6 M441.4,251.0 L456.5,266.1 " stroke="#000" stroke-width="1.1" fill="none" clip-path="url(#hc8)"/>
<rect x="442.4" y="246.0" width="13.1" height="4.6" fill="none" stroke="#000" stroke-width="1"/>
<text x="459.8" y="251.15" font-size="8.3" font-weight="bold" stroke="#000" stroke-width="0.15" textLength="19.0" lengthAdjust="spacingAndGlyphs">none</text>
<rect x="442.4" y="256.1" width="13.1" height="5.2" fill="#000" stroke="none"/>
<rect x="442.4" y="256.1" width="13.1" height="5.2" fill="none" stroke="#000" stroke-width="1"/>
<text x="459.8" y="261.55" font-size="8.3" font-weight="bold" stroke="#000" stroke-width="0.15" textLength="27.2" lengthAdjust="spacingAndGlyphs">control</text>
<rect x="442.4" y="266.5" width="13.1" height="6.0" fill="#fff" stroke="none"/>
<rect x="442.4" y="266.5" width="13.1" height="6.0" fill="none" stroke="#000" stroke-width="1"/>
<text x="459.8" y="272.35" font-size="8.3" font-weight="bold" stroke="#000" stroke-width="0.15" textLength="23.2" lengthAdjust="spacingAndGlyphs">Fc<tspan font-weight="normal">γ</tspan>RII</text>
<rect x="442.4" y="277.0" width="13.1" height="5.4" fill="#fff" stroke="none"/>
<rect x="442.4" y="277.0" width="13.1" height="5.4" fill="none" stroke="#000" stroke-width="1"/>
<line x1="444.5" y1="277.5" x2="444.5" y2="281.9" stroke="#bcbcbc" stroke-width="0.75"/>
<line x1="447.45" y1="277.5" x2="447.45" y2="281.9" stroke="#bcbcbc" stroke-width="0.75"/>
<line x1="450.4" y1="277.5" x2="450.4" y2="281.9" stroke="#bcbcbc" stroke-width="0.75"/>
<line x1="453.35" y1="277.5" x2="453.35" y2="281.9" stroke="#bcbcbc" stroke-width="0.75"/>
<text x="459.8" y="282.55" font-size="8.3" font-weight="bold" stroke="#000" stroke-width="0.15" textLength="25.6" lengthAdjust="spacingAndGlyphs">Fc<tspan font-weight="normal">γ</tspan>RIII</text>
<rect x="442.4" y="287.15" width="13.1" height="5.5" fill="#d3d3d3" stroke="none"/>
<rect x="442.4" y="287.15" width="13.1" height="5.5" fill="none" stroke="#000" stroke-width="1"/>
<text x="459.8" y="292.75" font-size="8.3" font-weight="bold" stroke="#000" stroke-width="0.15" textLength="59.6" lengthAdjust="spacingAndGlyphs">Fc<tspan font-weight="normal">γ</tspan>RII + Fc <tspan font-weight="normal">γ</tspan>RIII</text>
</g>
</svg>
</body></html>
